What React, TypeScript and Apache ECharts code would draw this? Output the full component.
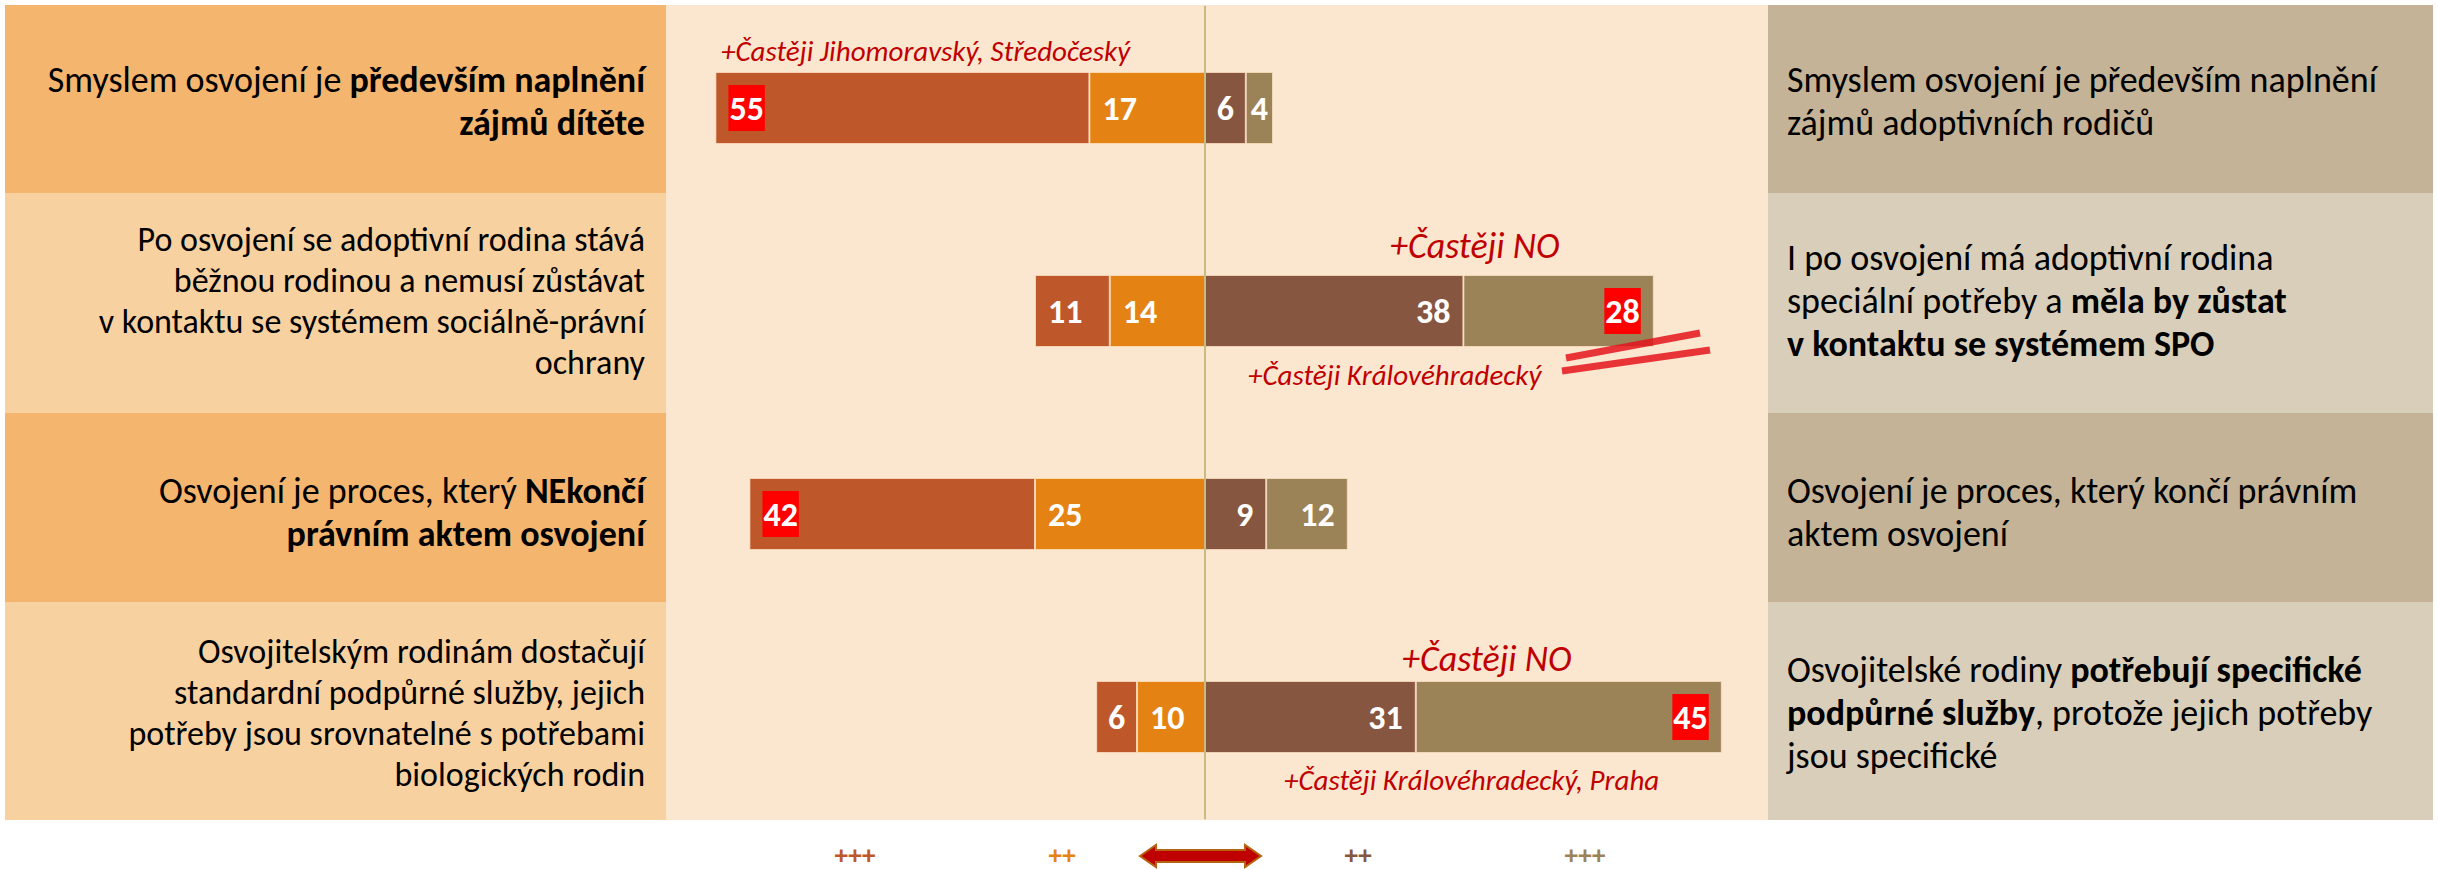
import React, { useEffect, useRef } from "react";
import * as echarts from "echarts";

const FONT = "Carlito, Lato, 'Noto Sans', sans-serif";

// Row ids (categories), top to bottom
const rows = ["r1", "r2", "r3", "r4"];

// Statements (*...* = bold)
const leftStatements = [
  "Smyslem osvojení je *především naplnění*\n*zájmů dítěte*",
  "Po osvojení se adoptivní rodina stává\nběžnou rodinou a nemusí zůstávat\nv kontaktu se systémem sociálně-právní\nochrany",
  "Osvojení je proces, který *NEkončí*\n*právním aktem osvojení*",
  "Osvojitelským rodinám dostačují\nstandardní podpůrné služby, jejich\npotřeby jsou srovnatelné s potřebami\nbiologických rodin",
];
const rightStatements = [
  "Smyslem osvojení je především naplnění\nzájmů adoptivních rodičů",
  "I po osvojení má adoptivní rodina\nspeciální potřeby a *měla by zůstat*\n*v kontaktu se systémem SPO*",
  "Osvojení je proces, který končí právním\naktem osvojení",
  "Osvojitelské rodiny *potřebují specifické*\n*podpůrné služby*, protože jejich potřeby\njsou specifické",
];

// Values (%)
const leftStrong = [55, 11, 42, 6]; // +++ left
const leftMild = [17, 14, 25, 10]; // ++ left
const rightMild = [6, 38, 9, 31]; // ++ right
const rightStrong = [4, 28, 12, 45]; // +++ right

// Which values are highlighted (series key, row index)
const highlighted: [string, number][] = [
  ["leftStrong", 0],
  ["rightStrong", 1],
  ["leftStrong", 2],
  ["rightStrong", 3],
];

// Annotations
const notes = [
  { text: "+Častěji Jihomoravský, Středočeský", x: 721, y: 51, size: 29 },
  { text: "+Častěji NO", x: 1390, y: 246, size: 36 },
  { text: "+Častěji Královéhradecký", x: 1248, y: 375, size: 29 },
  { text: "+Častěji NO", x: 1402, y: 659, size: 36 },
  { text: "+Častěji Královéhradecký, Praha", x: 1284, y: 780, size: 29 },
];

const scaleLabels = ["+++", "++", "++", "+++"];

const C_LS = "#BE582B";
const C_LM = "#E48313";
const C_RM = "#875640";
const C_RS = "#9C8257";

// vertical nudge of statement text per row (px upward)
const textLift = [7, 10, 2, 4];

function toRich(s: string) {
  const lines = s.split("\n");
  const key = lines.length >= 4 ? "s" : "l";
  return lines
    .map((line) =>
      line
        .split("*")
        .map((seg, k) => (seg ? `{${k % 2 ? "b" : "n"}${key}|${seg}}` : ""))
        .join("")
    )
    .join("\n");
}

const richStyles: any = {};
[
  ["l", 36, 43],
  ["s", 34, 41],
].forEach(([k, fs, lh]) => {
  richStyles["n" + k] = { fontSize: fs, fontFamily: FONT, color: "#000", lineHeight: lh };
  richStyles["b" + k] = { fontSize: fs, fontFamily: FONT, color: "#000", lineHeight: lh, fontWeight: "bold" };
});

export default function App() {
  const ref = useRef<HTMLDivElement>(null);
  useEffect(() => {
    document.body.style.margin = "0";
    const chart = echarts.init(ref.current!, undefined, { renderer: "svg" });

    const mk = (key: string, name: string, vals: number[], sign: number, color: string, pos: string) => ({
      type: "bar",
      name,
      stack: "all",
      yAxisIndex: 0,
      barWidth: 72,
      itemStyle: { color, borderColor: "rgba(255,230,200,0.7)", borderWidth: 1 },
      label: {
        show: true,
        position: pos,
        distance: 13,
        color: "#fff",
        fontWeight: "bold",
        fontSize: 34,
        lineHeight: 36,
        fontFamily: FONT,
        formatter: (p: any) => String(Math.abs(p.value)),
      },
      data: vals.map((v, i) => {
        const hl = highlighted.some(([k, r]) => k === key && r === i);
        const lab: any = {};
        if (hl) {
          lab.backgroundColor = "#FF0000";
          lab.padding = [5, 1, 5, 1];
        }
        if (v < 7) lab.position = "inside";
        return { value: sign * v, label: lab };
      }),
    });

    const bgRows = [5, 193, 413, 602, 820];
    const graphics: any[] = [];
    graphics.push({ type: "rect", z: 0, shape: { x: 666, y: 5, width: 1102, height: 815 }, style: { fill: "#FBE7CF" } });
    for (let i = 0; i < 4; i++) {
      const dark = i % 2 === 0;
      graphics.push({
        type: "rect",
        z: 0,
        shape: { x: 5, y: bgRows[i], width: 661, height: bgRows[i + 1] - bgRows[i] },
        style: { fill: dark ? "#F4B56F" : "#F8D1A0" },
      });
      graphics.push({
        type: "rect",
        z: 0,
        shape: { x: 1768, y: bgRows[i], width: 665, height: bgRows[i + 1] - bgRows[i] },
        style: { fill: dark ? "#C4B397" : "#D9CEB9" },
      });
    }
    notes.forEach((n) =>
      graphics.push({
        type: "text",
        z: 100,
        x: n.x,
        y: n.y,
        style: {
          text: n.text,
          fill: "#C00000",
          font: `italic ${n.size}px ${FONT}`,
          verticalAlign: "middle",
          align: "left",
        },
      })
    );
    graphics.push({ type: "line", z: 100, shape: { x1: 1566, y1: 358, x2: 1700, y2: 333 }, style: { stroke: "#E4141C", lineWidth: 7, opacity: 0.85 } });
    graphics.push({ type: "line", z: 100, shape: { x1: 1562, y1: 371, x2: 1710, y2: 350 }, style: { stroke: "#E4141C", lineWidth: 7, opacity: 0.85 } });
    const scaleX = [855, 1062, 1358, 1585];
    const scaleC = [C_LS, C_LM, C_RM, C_RS];
    scaleLabels.forEach((t, i) =>
      graphics.push({
        type: "text",
        z: 100,
        x: scaleX[i],
        y: 854,
        style: {
          text: t,
          fill: scaleC[i],
          stroke: "#fff",
          lineWidth: 2,
          font: `bold 27px ${FONT}`,
          lineHeight: 22,
          align: "center",
          verticalAlign: "middle",
        },
      })
    );
    graphics.push({
      type: "polygon",
      z: 100,
      shape: {
        points: [
          [1140, 856], [1156, 845], [1156, 850], [1245, 850], [1245, 845],
          [1261, 856], [1245, 867], [1245, 862], [1156, 862], [1156, 867],
        ],
      },
      style: { fill: "#C00000", stroke: "#B5630E", lineWidth: 2 },
    });

    const catAxisBase = {
      type: "category",
      inverse: true,
      axisTick: { show: false },
      splitLine: { show: false },
    };
    const catItems = (arr: string[]) =>
      arr.map((s, i) => ({ value: toRich(s), textStyle: { padding: [0, 0, textLift[i] * 2, 0] } }));

    chart.setOption({
      animation: false,
      backgroundColor: "#fff",
      grid: { left: 661, width: 1088, top: 6.5, height: 812 },
      xAxis: { type: "value", min: -80, max: 80, show: false },
      yAxis: [
        {
          ...catAxisBase,
          data: rows,
          z: 5,
          axisLine: { show: true, onZero: true, lineStyle: { color: "#C9BB7D", width: 2 } },
          axisLabel: { show: false },
        },
        {
          ...catAxisBase,
          data: catItems(leftStatements),
          position: "left",
          z: 3,
          axisLine: { show: false, onZero: false },
          axisLabel: { interval: 0, margin: 16, align: "right", rich: richStyles, color: "#000", fontSize: 36, fontFamily: FONT },
        },
        {
          ...catAxisBase,
          data: catItems(rightStatements),
          position: "right",
          z: 3,
          axisLine: { show: false, onZero: false },
          axisLabel: { interval: 0, margin: 38, align: "left", rich: richStyles, color: "#000", fontSize: 36, fontFamily: FONT },
        },
      ],
      series: [
        mk("leftMild", "++ (vlevo)", leftMild, -1, C_LM, "insideLeft"),
        mk("leftStrong", "+++ (vlevo)", leftStrong, -1, C_LS, "insideLeft"),
        mk("rightMild", "++ (vpravo)", rightMild, 1, C_RM, "insideRight"),
        mk("rightStrong", "+++ (vpravo)", rightStrong, 1, C_RS, "insideRight"),
      ],
      graphic: { elements: graphics },
    });
    return () => chart.dispose();
  }, []);
  return <div ref={ref} style={{ width: 2438, height: 869 }} />;
}
